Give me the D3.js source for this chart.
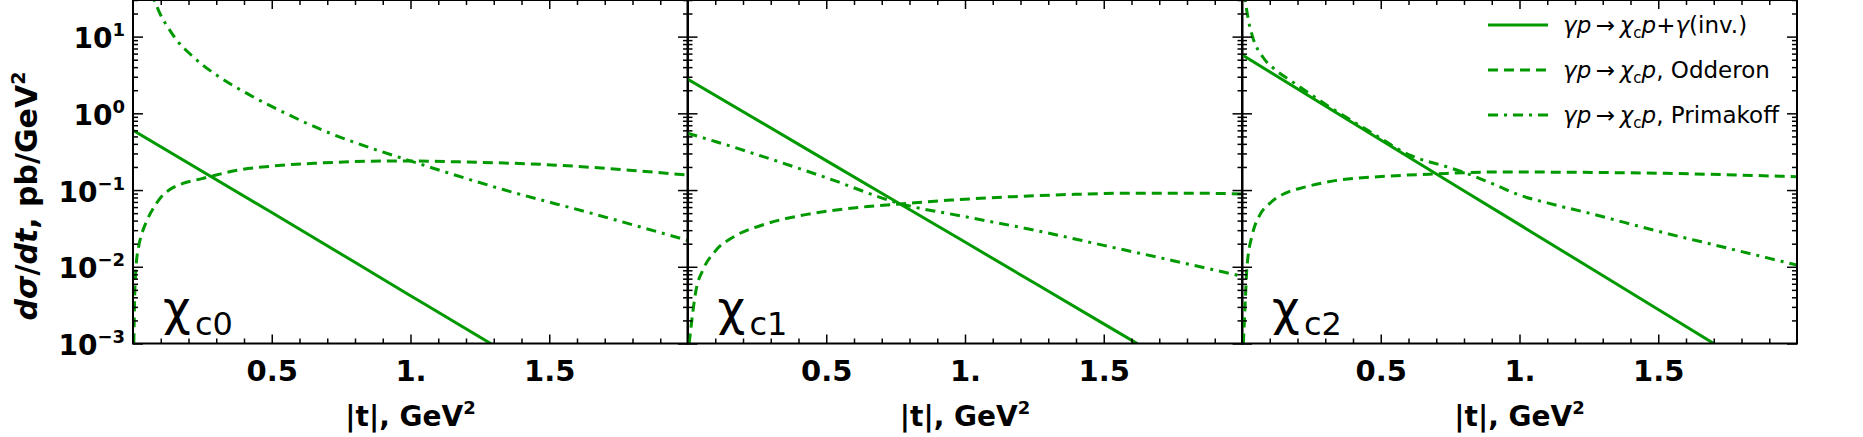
<!DOCTYPE html>
<html>
<head>
<meta charset="utf-8">
<script src="https://cdn.jsdelivr.net/npm/d3@7"></script>
<style>
body { margin: 0; background: #fff; }
text { font-family: "DejaVu Sans", sans-serif; }
</style>
</head>
<body>
<script>
// panel names (chi_c0, chi_c1, chi_c2)
const panelNames = ['c0', 'c1', 'c2'];

// gamma p -> chi_c p + gamma (inv.), solid lines; |t| in GeV^2, dsigma/dt in pb/GeV^2
const solidT = [0, 0.5, 1.0, 1.5, 2.0];
const solidC0 = [0.6, 0.051, 0.0042, 0.00035, 0.00003];
const solidC1 = [2.8, 0.242, 0.021, 0.0018, 0.000156];
const solidC2 = [5.8, 0.45, 0.0354, 0.00277, 0.000217];

// Odderon exchange, dashed
const oddT_c0 = [0.003, 0.006, 0.011, 0.02, 0.032, 0.05, 0.076, 0.1, 0.13, 0.18, 0.245, 0.3, 0.37, 0.5, 0.65, 0.8, 0.97, 1.2, 1.54, 1.8, 2.0];
const odd_c0 = [0.001, 0.004, 0.01, 0.018, 0.027, 0.04, 0.06, 0.08, 0.1, 0.122, 0.14, 0.157, 0.18, 0.205, 0.223, 0.235, 0.24, 0.232, 0.21, 0.18, 0.157];
const oddT_c1 = [0.006, 0.031, 0.055, 0.1, 0.17, 0.27, 0.4, 0.52, 0.65, 0.77, 0.95, 1.17, 1.4, 1.6, 1.8, 2.0];
const odd_c1 = [0.001, 0.005, 0.009, 0.016, 0.025, 0.035, 0.046, 0.054, 0.061, 0.066, 0.074, 0.082, 0.088, 0.091, 0.091, 0.089];
const oddT_c2 = [0.005, 0.012, 0.018, 0.038, 0.061, 0.1, 0.153, 0.23, 0.35, 0.49, 0.69, 0.92, 1.23, 1.53, 2.0];
const odd_c2 = [0.001, 0.0037, 0.01, 0.027, 0.045, 0.067, 0.09, 0.11, 0.135, 0.149, 0.162, 0.172, 0.17, 0.165, 0.149];

// Primakoff, dash-dot
const primT_c0 = [0.05, 0.076, 0.1, 0.13, 0.165, 0.2, 0.25, 0.31, 0.42, 0.55, 0.71, 0.86, 0.99, 1.16, 1.34, 1.65, 2.0];
const prim_c0 = [48, 30, 19, 12.5, 8.3, 6.2, 4.3, 3.0, 1.74, 1.0, 0.55, 0.35, 0.246, 0.157, 0.1, 0.05, 0.022];
const primT_c1 = [0, 0.1, 0.25, 0.5, 0.77, 1.0, 1.25, 1.5, 1.75, 2.0];
const prim_c1 = [0.55, 0.43, 0.29, 0.145, 0.066, 0.045, 0.03, 0.019, 0.012, 0.0075];
const primT_c2 = [0.006, 0.012, 0.023, 0.038, 0.077, 0.12, 0.18, 0.31, 0.46, 0.61, 0.74, 0.8, 0.9, 1.0, 1.1, 1.25, 1.5, 1.75, 2.0];
const prim_c2 = [50, 30, 16.5, 10, 5.3, 3.7, 2.6, 1.25, 0.58, 0.28, 0.2, 0.17, 0.122, 0.086, 0.068, 0.05, 0.029, 0.0175, 0.0105];

const yMajorTicks = [1e-3, 1e-2, 1e-1, 1, 10];
const yMajorLabels = ['\u22123', '\u22122', '\u22121', '0', '1'];
const xMajorTicks = [0.5, 1, 1.5];
const xMajorLabels = ['0.5', '1.', '1.5'];

const arrow = '\u2009\u2192\u2009';
const legendLabels = [
  [['\u03b3', 'i'], ['p', 'i'], [arrow, ''], ['\u03c7', 'i'], ['c', 'sub'], ['p', 'i'], ['+', ''], ['\u03b3', 'i'], ['(inv.)', '']],
  [['\u03b3', 'i'], ['p', 'i'], [arrow, ''], ['\u03c7', 'i'], ['c', 'sub'], ['p', 'i'], [', Odderon', '']],
  [['\u03b3', 'i'], ['p', 'i'], [arrow, ''], ['\u03c7', 'i'], ['c', 'sub'], ['p', 'i'], [', Primakoff', '']]
];

const width = 1863;
const height = 437;
const plotTop = 0;
const plotBottom = 343.5;
const panelLeft = [133, 687.5, 1242];
const panelWidth = 555;
const green = '#009900';
const dashStyles = [null, '10,6', '10,6,3,6'];

const zip = (ts, vs) => ts.map((t, i) => [t, vs[i]]);
const panelSeries = [
  [zip(solidT, solidC0), zip(oddT_c0, odd_c0), zip(primT_c0, prim_c0)],
  [zip(solidT, solidC1), zip(oddT_c1, odd_c1), zip(primT_c1, prim_c1)],
  [zip(solidT, solidC2), zip(oddT_c2, odd_c2), zip(primT_c2, prim_c2)]
];

const svg = d3.select('body').append('svg')
  .attr('width', width)
  .attr('height', height)
  .style('display', 'block');

const y = d3.scaleLog().domain([1e-3, 30]).range([plotBottom, plotTop]);
const yMinor = y.ticks().filter(v => !yMajorTicks.some(m => Math.abs(m - v) / m < 1e-6));

function styleAxis(g) {
  g.select('.domain').remove();
  g.selectAll('.tick line').attr('stroke', '#000').attr('stroke-width', 1.5);
  g.attr('font-family', null).attr('font-size', null);
}

panelNames.forEach((name, i) => {
  const x0 = panelLeft[i];
  const x = d3.scaleLinear().domain([0, 2]).range([x0, x0 + panelWidth]);
  const xMinor = x.ticks(20).filter(v => v > 0 && v < 2 && !xMajorTicks.includes(v));

  svg.append('clipPath').attr('id', 'clip' + i)
    .append('rect')
    .attr('x', x0).attr('y', plotTop)
    .attr('width', panelWidth).attr('height', plotBottom - plotTop);

  const plot = svg.append('g').attr('clip-path', `url(#clip${i})`);

  const line = d3.line()
    .x(d => x(d[0]))
    .y(d => y(Math.max(d[1], 1e-8)))
    .curve(d3.curveMonotoneX);

  panelSeries[i].forEach((s, k) => {
    plot.append('path')
      .datum(s)
      .attr('d', line)
      .attr('fill', 'none')
      .attr('stroke', green)
      .attr('stroke-width', 3)
      .attr('stroke-dasharray', dashStyles[k]);
  });

  // panel label
  const lab = svg.append('g');
  lab.append('text')
    .attr('x', x0 + 30).attr('y', 325)
    .attr('font-size', 48)
    .text('\u03c7');
  lab.append('text')
    .attr('x', x0 + 62).attr('y', 335)
    .attr('font-size', 32)
    .text(name);

  // legend in the last panel
  if (i === 2) {
    const rowY = [25, 70, 115];
    legendLabels.forEach((parts, k) => {
      plot.append('line')
        .attr('x1', 1488).attr('x2', 1548)
        .attr('y1', rowY[k]).attr('y2', rowY[k])
        .attr('stroke', green)
        .attr('stroke-width', 3)
        .attr('stroke-dasharray', dashStyles[k]);
      const t = plot.append('text')
        .attr('x', 1563).attr('y', rowY[k] + 8)
        .attr('font-size', 23);
      let shifted = false;
      parts.forEach(([str, kind]) => {
        const ts = t.append('tspan').text(str).style('white-space', 'pre');
        if (kind === 'i') ts.attr('font-style', 'italic');
        if (kind === 'sub') {
          ts.attr('font-size', 15).attr('dy', 5);
          shifted = true;
        } else if (shifted) {
          ts.attr('dy', -5);
          shifted = false;
        }
      });
    });
  }

  // bottom ticks
  const bottom = svg.append('g').attr('transform', `translate(0,${plotBottom})`);
  bottom.append('g')
    .call(d3.axisBottom(x).tickValues(xMinor).tickSizeInner(-5).tickSizeOuter(0).tickFormat(''))
    .call(styleAxis);
  const bMajor = bottom.append('g')
    .call(d3.axisBottom(x).tickValues(xMajorTicks).tickSizeInner(-9).tickSizeOuter(0).tickPadding(17)
      .tickFormat((d, j) => xMajorLabels[j]))
    .call(styleAxis);
  bMajor.selectAll('.tick text')
    .attr('font-size', 29)
    .attr('font-weight', 'bold')
    .attr('fill', '#000');

  // top ticks
  const top = svg.append('g').attr('transform', `translate(0,${plotTop})`);
  top.append('g')
    .call(d3.axisTop(x).tickValues(xMinor).tickSizeInner(-5).tickSizeOuter(0).tickFormat(''))
    .call(styleAxis);
  top.append('g')
    .call(d3.axisTop(x).tickValues(xMajorTicks).tickSizeInner(-9).tickSizeOuter(0).tickFormat(''))
    .call(styleAxis);

  // left ticks
  const left = svg.append('g').attr('transform', `translate(${x0},0)`);
  left.append('g')
    .call(d3.axisLeft(y).tickValues(yMinor).tickSizeInner(-5).tickSizeOuter(0).tickFormat(''))
    .call(styleAxis);
  const lMajor = left.append('g')
    .call(d3.axisLeft(y).tickValues(yMajorTicks).tickSizeInner(-10).tickSizeOuter(0).tickPadding(8)
      .tickFormat(''))
    .call(styleAxis);
  if (i === 0) {
    lMajor.selectAll('.tick text').each(function(d, j) {
      const t = d3.select(this)
        .attr('font-size', 28)
        .attr('font-weight', 'bold')
        .attr('fill', '#000')
        .attr('dy', '0.4em');
      t.append('tspan').text('10');
      t.append('tspan').text(yMajorLabels[j]).attr('font-size', 18).attr('dy', -12);
    });
  }

  // right ticks
  const right = svg.append('g').attr('transform', `translate(${x0 + panelWidth},0)`);
  right.append('g')
    .call(d3.axisRight(y).tickValues(yMinor).tickSizeInner(-5).tickSizeOuter(0).tickFormat(''))
    .call(styleAxis);
  right.append('g')
    .call(d3.axisRight(y).tickValues(yMajorTicks).tickSizeInner(-10).tickSizeOuter(0).tickFormat(''))
    .call(styleAxis);

  // frame
  svg.append('rect')
    .attr('x', x0).attr('y', plotTop)
    .attr('width', panelWidth).attr('height', plotBottom - plotTop)
    .attr('fill', 'none')
    .attr('stroke', '#000')
    .attr('stroke-width', 2);

  // x title
  const xt = svg.append('text')
    .attr('x', x0 + panelWidth / 2).attr('y', 426)
    .attr('text-anchor', 'middle')
    .attr('font-size', 28)
    .attr('font-weight', 'bold');
  xt.append('tspan').text('|t|, GeV');
  xt.append('tspan').text('2').attr('font-size', 18).attr('dy', -12);
});

// y title
const yt = svg.append('text')
  .attr('transform', 'translate(37,196) rotate(-90)')
  .attr('text-anchor', 'middle')
  .attr('font-size', 30)
  .attr('font-weight', 'bold');
yt.append('tspan').text('d').attr('font-style', 'italic');
yt.append('tspan').text('\u03c3').attr('font-style', 'italic');
yt.append('tspan').text('/');
yt.append('tspan').text('dt').attr('font-style', 'italic');
yt.append('tspan').text(', pb/GeV');
yt.append('tspan').text('2').attr('font-size', 19).attr('dy', -12);
</script>
</body>
</html>
